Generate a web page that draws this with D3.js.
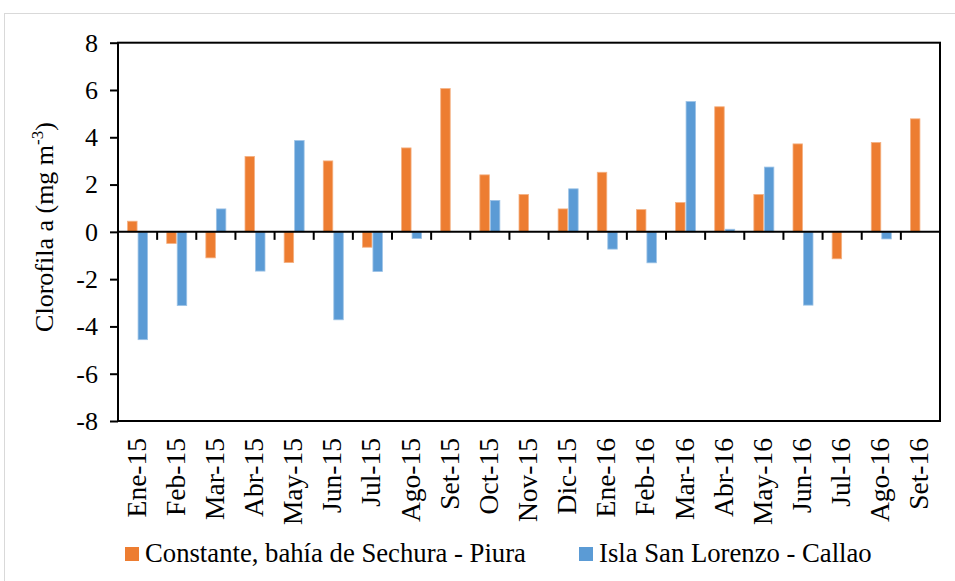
<!DOCTYPE html>
<html>
<head>
<meta charset="utf-8">
<script src="https://cdn.jsdelivr.net/npm/d3@7"></script>
</head>
<body style="margin:0;background:#fff">
<svg id="chart" width="955" height="581"></svg>
<script>
// Monthly chlorophyll-a anomalies (mg m-3)
const months = ["Ene-15","Feb-15","Mar-15","Abr-15","May-15","Jun-15","Jul-15","Ago-15","Set-15",
  "Oct-15","Nov-15","Dic-15","Ene-16","Feb-16","Mar-16","Abr-16","May-16","Jun-16","Jul-16","Ago-16","Set-16"];
const seriesNames = ["Constante, bahía de Sechura - Piura", "Isla San Lorenzo - Callao"];
const sechura = [0.45, -0.49, -1.10, 3.19, -1.30, 3.00, -0.65, 3.55, 6.06, 2.41, 1.58, 0.97,
  2.52, 0.94, 1.24, 5.29, 1.58, 3.72, -1.14, 3.78, 4.78];
const sanLorenzo = [-4.56, -3.12, 0.97, -1.66, 3.86, -3.72, -1.68, -0.28, null, 1.33, null, 1.82,
  -0.73, -1.31, 5.51, 0.11, 2.74, -3.10, null, -0.30, null];
const yTicks = [-8, -6, -4, -2, 0, 2, 4, 6, 8];
const colors = ["#ED7D31", "#5B9BD5"];
const outlines = ["#F4B183", "#9DC3E6"];
const FONT = "Liberation Serif";

const svg = d3.select("#chart");
const plot = { left: 118, right: 940, top: 42.7, bottom: 421 };

// outer frame of the chart area
svg.append("rect")
  .attr("x", 4.5).attr("y", 13.5).attr("width", 980).attr("height", 620)
  .attr("fill", "none").attr("stroke", "#d9d9d9").attr("stroke-width", 1);

const pad = 0.4635;
const x0 = d3.scaleBand().domain(months).range([plot.left, plot.right])
  .paddingInner(pad).paddingOuter(pad / 2);
const x1 = d3.scaleBand().domain([0, 1]).range([0, x0.bandwidth()]);
const y = d3.scaleLinear().domain([-8, 8]).range([plot.bottom, plot.top]);

const rows = months.map((m, i) => ({ m, v: [sechura[i], sanLorenzo[i]] }));

// bars
const groups = svg.append("g").selectAll("g").data(rows).join("g")
  .attr("transform", d => `translate(${x0(d.m)},0)`);
groups.selectAll("rect")
  .data(d => d.v.map((v, s) => ({ v, s })).filter(e => e.v !== null))
  .join("rect")
  .attr("x", e => x1(e.s) + 0.5)
  .attr("width", x1.bandwidth() - 1)
  .attr("y", e => y(Math.max(0, e.v)))
  .attr("height", e => Math.abs(y(e.v) - y(0)))
  .attr("fill", e => colors[e.s])
  .attr("stroke", e => outlines[e.s])
  .attr("stroke-width", 0.8);

// plot frame
svg.append("rect")
  .attr("x", plot.left).attr("y", plot.top)
  .attr("width", plot.right - plot.left).attr("height", plot.bottom - plot.top)
  .attr("fill", "none").attr("stroke", "#000").attr("stroke-width", 2);

// y axis
const yAxis = d3.axisLeft(y).tickValues(yTicks).tickSize(8).tickPadding(12)
  .tickFormat(d => d < 0 ? "-" + Math.abs(d) : d);
const gy = svg.append("g").attr("transform", `translate(${plot.left},0)`).call(yAxis);
gy.select(".domain").remove();
gy.selectAll(".tick line").attr("stroke", "#000").attr("stroke-width", 2);
gy.selectAll(".tick text").attr("fill", "#000")
  .attr("font-family", FONT).attr("font-size", 26);

// zero line with category ticks
const zeroTicks = d3.range(1, months.length).map(i => plot.left + i * x0.step());
const gz = svg.append("g");
gz.append("line").attr("x1", plot.left).attr("x2", plot.right)
  .attr("y1", y(0)).attr("y2", y(0)).attr("stroke", "#000").attr("stroke-width", 2);
gz.selectAll("line.t").data(zeroTicks).join("line").attr("class", "t")
  .attr("x1", d => d).attr("x2", d => d)
  .attr("y1", y(0)).attr("y2", y(0) + 8)
  .attr("stroke", "#000").attr("stroke-width", 2);

// month labels
svg.append("g").selectAll("text").data(months).join("text")
  .attr("transform", d => `translate(${x0(d) + x0.bandwidth() / 2 + 8},438) rotate(-90)`)
  .attr("text-anchor", "end")
  .attr("font-family", FONT).attr("font-size", 27.5)
  .text(d => d);

// y axis title
const title = svg.append("text")
  .attr("transform", "translate(53,227) rotate(-90)")
  .attr("text-anchor", "middle")
  .attr("font-family", FONT).attr("font-size", 26);
title.append("tspan").attr("font-family", FONT).attr("font-size", 26).text("Clorofila a (mg m");
title.append("tspan").attr("font-family", FONT).attr("font-size", 17).attr("dy", -10).text("-3");
title.append("tspan").attr("font-family", FONT).attr("font-size", 26).attr("dy", 10).text(")");

// legend
const legendX = [125, 579];
const lg = svg.append("g").selectAll("g").data(seriesNames).join("g")
  .attr("transform", (d, i) => `translate(${legendX[i]},547)`);
lg.append("rect").attr("width", 14).attr("height", 14)
  .attr("fill", (d, i) => colors[i]);
lg.append("text").attr("x", 20).attr("y", 15)
  .attr("font-family", FONT).attr("font-size", 26.7)
  .text(d => d);
</script>
</body>
</html>
